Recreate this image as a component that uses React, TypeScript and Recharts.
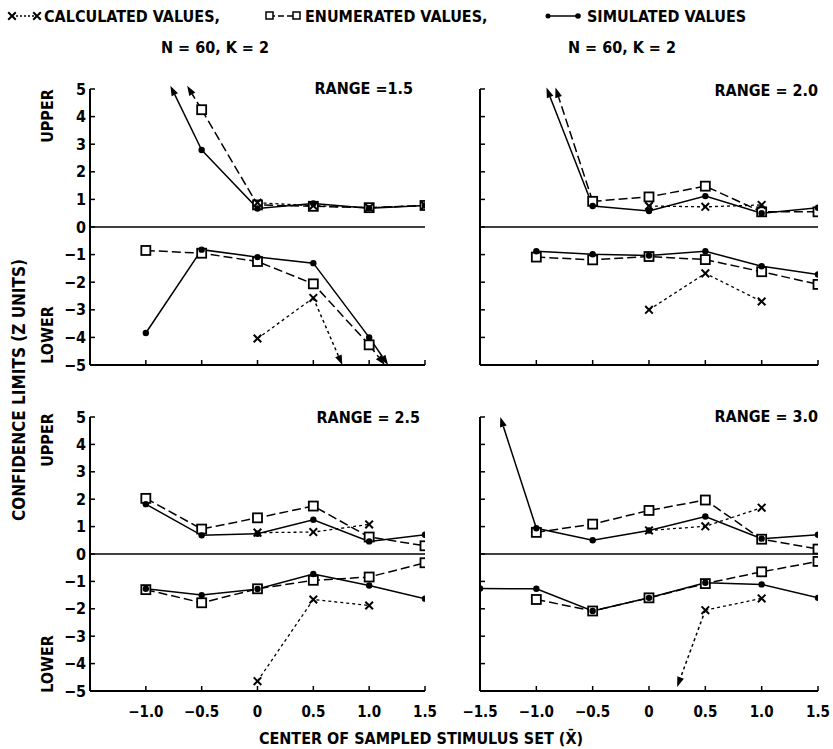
import React from 'react';
import { LineChart, Line, XAxis, YAxis, ReferenceLine } from 'recharts';

const FONT = '"Liberation Sans Narrow", "DejaVu Sans Condensed", "Liberation Sans", Arial, sans-serif';

// x positions shared by every panel (center of sampled stimulus set)
const xValues = [-1.5, -1.0, -0.5, 0, 0.5, 1.0, 1.5];
const leftTicks = [-1.0, -0.5, 0, 0.5, 1.0, 1.5];
const rightTicks = [-1.5, -1.0, -0.5, 0, 0.5, 1.0, 1.5];
const yTicks = [-5, -4, -3, -2, -1, 0, 1, 2, 3, 4, 5];

// RANGE = 1.5
const simUp15 = [null, null, 2.79, 0.67, 0.85, 0.68, 0.78];
const enumUp15 = [null, null, 4.25, 0.8, 0.75, 0.7, 0.78];
const calcUp15 = [null, null, null, 0.88, 0.77, 0.7, 0.78];
const simLo15 = [null, -3.84, -0.82, -1.09, -1.31, -4.0, null];
const enumLo15 = [null, -0.85, -0.95, -1.25, -2.06, -4.27, null];
const calcLo15 = [null, null, null, -4.04, -2.57, null, null];

// RANGE = 2.0
const simUp20 = [null, null, 0.76, 0.58, 1.12, 0.5, 0.7];
const enumUp20 = [null, null, 0.93, 1.09, 1.48, 0.55, 0.55];
const calcUp20 = [null, null, null, 0.76, 0.73, 0.8, null];
const simLo20 = [null, -0.88, -0.99, -1.03, -0.88, -1.42, -1.72];
const enumLo20 = [null, -1.09, -1.19, -1.07, -1.18, -1.62, -2.08];
const calcLo20 = [null, null, null, -3.0, -1.68, -2.7, null];

// RANGE = 2.5
const simUp25 = [null, 1.82, 0.68, 0.74, 1.25, 0.46, 0.7];
const enumUp25 = [null, 2.03, 0.91, 1.32, 1.75, 0.62, 0.3];
const calcUp25 = [null, null, null, 0.78, 0.8, 1.08, null];
const simLo25 = [null, -1.27, -1.5, -1.28, -0.73, -1.15, -1.63];
const enumLo25 = [null, -1.3, -1.78, -1.27, -0.96, -0.84, -0.32];
const calcLo25 = [null, null, null, -4.64, -1.66, -1.88, null];

// RANGE = 3.0
const simUp30 = [null, 0.94, 0.5, 0.86, 1.37, 0.56, 0.7];
const enumUp30 = [null, 0.79, 1.09, 1.59, 1.97, 0.54, 0.18];
const calcUp30 = [null, null, null, 0.86, 1.01, 1.69, null];
const simLo30 = [-1.26, -1.27, -2.08, -1.6, -1.05, -1.11, -1.6];
const enumLo30 = [null, -1.66, -2.08, -1.6, -1.08, -0.65, -0.27];
const calcLo30 = [null, null, null, null, -2.05, -1.62, null];

// off-scale values: [series, fromX, fromY, towardX, towardY]
type Arrow = [string, number, number, number, number];
const arrows15: Arrow[] = [
  ['sim', -0.5, 2.79, -0.78, 5.12],
  ['enum', -0.5, 4.25, -0.63, 5.12],
  ['sim', 1.0, -4.0, 1.17, -5.0],
  ['enum', 1.0, -4.27, 1.14, -5.0],
  ['calc', 0.5, -2.57, 0.76, -5.0],
];
const arrows20: Arrow[] = [
  ['sim', -0.5, 0.76, -0.91, 5.05],
  ['enum', -0.5, 0.93, -0.83, 5.05],
];
const arrows25: Arrow[] = [];
const arrows30: Arrow[] = [
  ['sim', -1.0, 0.94, -1.32, 5.0],
  ['calc', 0.5, -2.05, 0.25, -4.85],
];

const DASH: Record<string, string | undefined> = { sim: undefined, enum: '9 4', calc: '3 3' };

const fmt = (v: number) => String(v).replace('-', '\u2212');
const fmtX = (v: number) => (v === 0 ? '0' : v.toFixed(1).replace('-', '\u2212'));

const SimDot = (p: any) => {
  if (p.cx == null || p.cy == null || p.value == null) return <g key={p.key} />;
  return <circle key={p.key} cx={p.cx} cy={p.cy} r={3.2} fill="#000" />;
};
const EnumDot = (p: any) => {
  if (p.cx == null || p.cy == null || p.value == null) return <g key={p.key} />;
  return <rect key={p.key} x={p.cx - 4.5} y={p.cy - 4.5} width={9} height={9} fill="#fff" stroke="#000" strokeWidth={1.8} />;
};
const CalcDot = (p: any) => {
  if (p.cx == null || p.cy == null || p.value == null) return <g key={p.key} />;
  const s = 3.8;
  return (
    <g key={p.key} stroke="#000" strokeWidth={2}>
      <line x1={p.cx - s} y1={p.cy - s} x2={p.cx + s} y2={p.cy + s} />
      <line x1={p.cx - s} y1={p.cy + s} x2={p.cx + s} y2={p.cy - s} />
    </g>
  );
};

const arrowShape = (dash?: string) => (p: any) => {
  const { x1, y1, x2, y2 } = p;
  if ([x1, y1, x2, y2].some((v) => v == null || Number.isNaN(v))) return <g />;
  const a = Math.atan2(y2 - y1, x2 - x1);
  const L = 10;
  const W = 3.5;
  const bx = x2 - L * Math.cos(a);
  const by = y2 - L * Math.sin(a);
  const pts = `${x2},${y2} ${bx - W * Math.sin(a)},${by + W * Math.cos(a)} ${bx + W * Math.sin(a)},${by - W * Math.cos(a)}`;
  return (
    <g>
      <line x1={x1} y1={y1} x2={bx} y2={by} stroke="#000" strokeWidth={1.5} strokeDasharray={dash} />
      <polygon points={pts} fill="#000" />
    </g>
  );
};

type PanelProps = {
  series: (number | null)[][];
  arrows: Arrow[];
  left: number;
  top: number;
  isLeft: boolean;
  showX: boolean;
};

function Panel({ series, arrows, left, top, isLeft, showX }: PanelProps) {
  const [simUp, enumUp, calcUp, simLo, enumLo, calcLo] = series;
  const data = xValues.map((x, i) => ({
    x,
    simUp: simUp[i],
    enumUp: enumUp[i],
    calcUp: calcUp[i],
    simLo: simLo[i],
    enumLo: enumLo[i],
    calcLo: calcLo[i],
  }));
  const yW = isLeft ? 40 : 30;
  const width = isLeft ? 395 : 383;
  const height = top > 200 ? 314 : 316;
  const tickStyle = { fill: '#000', fontSize: 15, fontWeight: 700, fontFamily: FONT };
  const common = { isAnimationActive: false, stroke: '#000', strokeWidth: 1.5, type: 'linear' as const };
  return (
    <div style={{ position: 'absolute', left, top }}>
      <LineChart width={width} height={height} data={data} margin={{ top: 10, right: isLeft ? 20 : 15, left: 0, bottom: 0 }}>
        <XAxis
          type="number"
          dataKey="x"
          domain={[-1.5, 1.5]}
          ticks={isLeft ? leftTicks : rightTicks}
          interval={0}
          allowDataOverflow
          height={30}
          tickSize={-5}
          tickMargin={20}
          tickFormatter={(v: number) => (showX ? fmtX(v) : '')}
          tick={tickStyle}
          axisLine={{ stroke: '#000', strokeWidth: 2 }}
          tickLine={{ stroke: '#000', strokeWidth: 1.5 }}
        />
        <YAxis
          type="number"
          domain={[-5, 5]}
          ticks={yTicks}
          interval={0}
          allowDataOverflow
          width={yW}
          tickSize={-5}
          tickMargin={9}
          tickFormatter={(v: number) => (isLeft ? fmt(v) : '')}
          tick={{ ...tickStyle, fontSize: 16 }}
          axisLine={{ stroke: '#000', strokeWidth: 2 }}
          tickLine={{ stroke: '#000', strokeWidth: 1.5 }}
        />
        <ReferenceLine y={0} stroke="#000" strokeWidth={1.6} />
        {arrows.map(([s, fx, fy, tx, ty], i) => (
          <ReferenceLine
            key={'a' + i}
            segment={[{ x: fx, y: fy }, { x: tx, y: ty }]}
            ifOverflow="visible"
            shape={arrowShape(DASH[s])}
          />
        ))}
        <Line {...common} dataKey="enumUp" strokeDasharray={DASH.enum} dot={EnumDot} />
        <Line {...common} dataKey="enumLo" strokeDasharray={DASH.enum} dot={EnumDot} />
        <Line {...common} dataKey="calcUp" strokeDasharray={DASH.calc} strokeWidth={1.3} dot={CalcDot} />
        <Line {...common} dataKey="calcLo" strokeDasharray={DASH.calc} strokeWidth={1.3} dot={CalcDot} />
        <Line {...common} dataKey="simUp" dot={SimDot} />
        <Line {...common} dataKey="simLo" dot={SimDot} />
      </LineChart>
    </div>
  );
}

const txt = { fontFamily: FONT, fontWeight: 700, fill: '#000' };

function Legend() {
  return (
    <svg width={833} height={60} style={{ position: 'absolute', left: 0, top: 0 }}>
      {/* calculated */}
      <line x1={12} y1={16} x2={36} y2={16} stroke="#000" strokeWidth={1.3} strokeDasharray="2 2" />
      <CalcDot cx={12} cy={16} value={1} />
      <CalcDot cx={37} cy={16} value={1} />
      <text x={44} y={22} fontSize={16} {...txt}>CALCULATED VALUES,</text>
      {/* enumerated */}
      <line x1={269} y1={16} x2={296} y2={16} stroke="#000" strokeWidth={1.5} strokeDasharray="6 3" />
      <rect x={266} y={12} width={7} height={7} fill="#fff" stroke="#000" strokeWidth={1.5} />
      <rect x={293} y={12} width={7} height={7} fill="#fff" stroke="#000" strokeWidth={1.5} />
      <text x={305} y={22} fontSize={16} {...txt}>ENUMERATED VALUES,</text>
      {/* simulated */}
      <line x1={548} y1={16} x2={578} y2={16} stroke="#000" strokeWidth={1.5} />
      <circle cx={548} cy={16} r={2.5} fill="#000" />
      <circle cx={578} cy={16} r={2.8} fill="#000" />
      <text x={587} y={22} fontSize={16} {...txt}>SIMULATED VALUES</text>
      <text x={215} y={53} fontSize={16} textAnchor="middle" {...txt}>N = 60,  K = 2</text>
      <text x={622} y={53} fontSize={16} textAnchor="middle" {...txt}>N = 60,  K = 2</text>
    </svg>
  );
}

function Labels() {
  const vert = (x: number, y: number, s: string, size: number) => (
    <text x={x} y={y} fontSize={size} textAnchor="middle" transform={`rotate(-90 ${x} ${y})`} {...txt}>
      {s}
    </text>
  );
  return (
    <svg width={833} height={749} style={{ position: 'absolute', left: 0, top: 0, pointerEvents: 'none' }}>
      {vert(25, 390, 'CONFIDENCE LIMITS (Z UNITS)', 17)}
      {vert(53, 116, 'UPPER', 16)}
      {vert(53, 335, 'LOWER', 16)}
      {vert(53, 440, 'UPPER', 16)}
      {vert(53, 664, 'LOWER', 16)}
      <text x={413} y={94} fontSize={16} textAnchor="end" {...txt}>RANGE =1.5</text>
      <text x={818} y={96} fontSize={16} textAnchor="end" {...txt}>RANGE = 2.0</text>
      <text x={420} y={423} fontSize={16} textAnchor="end" {...txt}>RANGE = 2.5</text>
      <text x={818} y={422} fontSize={16} textAnchor="end" {...txt}>RANGE = 3.0</text>
      <text x={421} y={744} fontSize={16} textAnchor="middle" {...txt}>CENTER OF SAMPLED STIMULUS SET (X&#772;)</text>
    </svg>
  );
}

export default function App() {
  return (
    <div style={{ position: 'absolute', left: 0, top: 0, width: 833, height: 749, background: '#fff', overflow: 'hidden' }}>
      <Legend />
      <Panel series={[simUp15, enumUp15, calcUp15, simLo15, enumLo15, calcLo15]} arrows={arrows15} left={50} top={79} isLeft showX={false} />
      <Panel series={[simUp20, enumUp20, calcUp20, simLo20, enumLo20, calcLo20]} arrows={arrows20} left={450} top={79} isLeft={false} showX={false} />
      <Panel series={[simUp25, enumUp25, calcUp25, simLo25, enumLo25, calcLo25]} arrows={arrows25} left={50} top={407} isLeft showX />
      <Panel series={[simUp30, enumUp30, calcUp30, simLo30, enumLo30, calcLo30]} arrows={arrows30} left={450} top={407} isLeft={false} showX />
      <Labels />
    </div>
  );
}
